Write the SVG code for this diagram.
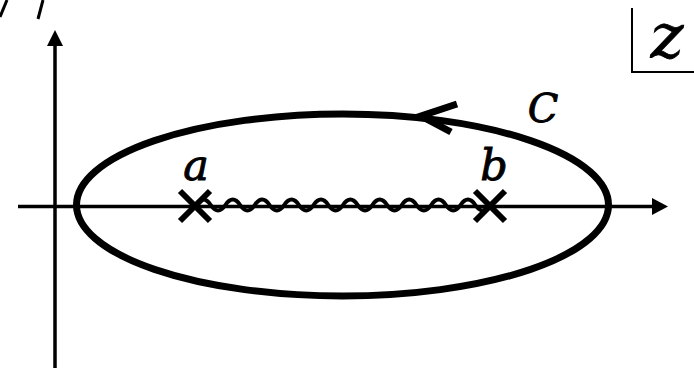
<svg xmlns="http://www.w3.org/2000/svg" width="694" height="368" viewBox="0 0 694 368">
<style>
.lbl{font-family:"DejaVu Serif","Liberation Serif",serif;font-style:italic;fill:#000;stroke:#000;stroke-width:0.9}
.ax{stroke:#000;stroke-width:3.5;fill:none}
.thick{stroke:#000;stroke-width:7;fill:none}
.cross{stroke:#000;stroke-width:6}
</style>
<rect width="694" height="368" fill="#fff"/>
<g id="fragments">
<line x1="0" y1="17" x2="7" y2="0" stroke="#000" stroke-width="3"/>
<line x1="38" y1="19" x2="43" y2="0" stroke="#000" stroke-width="3"/>
</g>
<g id="axes">
<line class="ax" x1="18" y1="206.5" x2="655" y2="206.5"/>
<polygon points="668,206.5 652,198 652,215" fill="#000"/>
<line class="ax" x1="55" y1="368" x2="55" y2="44" stroke-width="4"/>
<polygon points="55,30 47,46 63,46" fill="#000"/>
</g>
<g id="contour">
<ellipse class="thick" cx="342.5" cy="205" rx="266" ry="91"/>
<polyline class="thick" points="457,104 421,116 451,132"/>
</g>
<g id="cut">
<path d="M196,205 q7.35,-11 14.7,0 t14.7,0 t14.7,0 t14.7,0 t14.7,0 t14.7,0 t14.7,0 t14.7,0 t14.7,0 t14.7,0 t14.7,0 t14.7,0 t14.7,0 t14.7,0 t14.7,0 t14.7,0 t14.7,0 t14.7,0 t14.7,0 t14.7,0" fill="none" stroke="#000" stroke-width="4"/>
</g>
<g id="point-a">
<line class="cross" x1="180" y1="191" x2="210" y2="221"/>
<line class="cross" x1="180" y1="221" x2="210" y2="191"/>
<text class="lbl" x="196" y="180" font-size="43" text-anchor="middle">a</text>
</g>
<g id="point-b">
<line class="cross" x1="475" y1="191" x2="505" y2="221"/>
<line class="cross" x1="475" y1="221" x2="505" y2="191"/>
<text class="lbl" x="494" y="180" font-size="43" text-anchor="middle">b</text>
</g>
<g id="label-C">
<text class="lbl" x="543" y="122" font-size="40" text-anchor="middle">C</text>
</g>
<g id="label-z">
<polyline points="632,8 632,72 694,72" fill="none" stroke="#000" stroke-width="2"/>
<text class="lbl" x="667" y="57" font-size="62" text-anchor="middle">z</text>
</g>
</svg>
